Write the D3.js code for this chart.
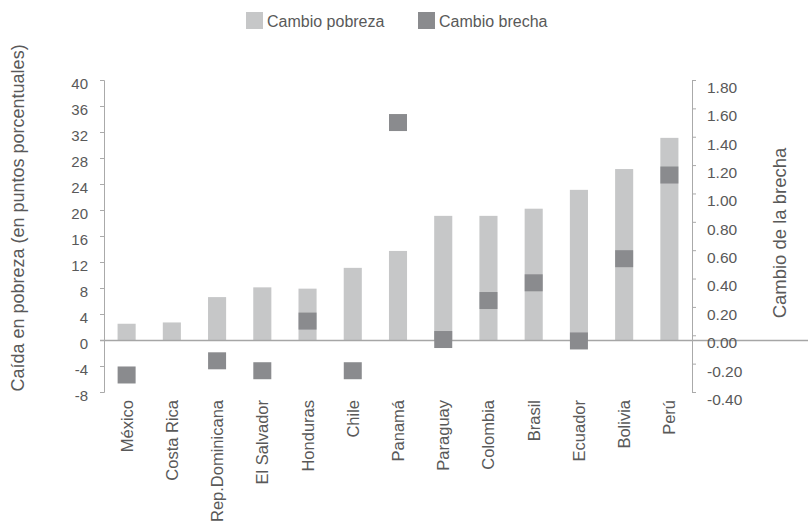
<!DOCTYPE html>
<html><head><meta charset="utf-8">
<script src="https://cdn.jsdelivr.net/npm/d3@7"></script>
<style>
body{margin:0;background:#fff;}
text{font-family:"Liberation Sans",Arial,sans-serif;fill:#595959;}
</style></head>
<body>
<svg id="chart" width="810" height="528"></svg>
<script>
const countries = ["México","Costa Rica","Rep.Dominicana","El Salvador","Honduras","Chile","Panamá","Paraguay","Colombia","Brasil","Ecuador","Bolivia","Perú"];
const cambioPobreza = [2.5, 2.7, 6.6, 8.1, 7.9, 11.1, 13.7, 19.1, 19.1, 20.2, 23.1, 26.3, 31.1];
const cambioBrecha = [-0.28, null, -0.18, -0.25, 0.10, -0.25, 1.50, -0.03, 0.245, 0.37, -0.04, 0.54, 1.13];
const leftTicks = [40,36,32,28,24,20,16,12,8,4,0,-4,-8];
const rightTicks = [1.8,1.6,1.4,1.2,1.0,0.8,0.6,0.4,0.2,0.0,-0.2,-0.4];
const seriesNames = ["Cambio pobreza","Cambio brecha"];
const colors = ["#c6c7c8","#8a8b8e"];

const svg = d3.select("#chart");
const L = 104, R = 692, T = 80, B = 392;

const x = d3.scaleBand().domain(countries).range([L, R]).paddingInner(0.6).paddingOuter(0.3);
const yL = d3.scaleLinear().domain([-8, 40]).range([B, T]);
const yR = d3.scaleLinear().domain([-0.4, 1.8]).range([B, T]);
const hy = f => v => f(v).replace("\u2212", "-");

// bars
svg.append("g").selectAll("rect").data(countries).join("rect")
  .attr("x", d => x(d))
  .attr("width", x.bandwidth())
  .attr("y", (d,i) => Math.min(yL(cambioPobreza[i]), yL(0)))
  .attr("height", (d,i) => Math.abs(yL(cambioPobreza[i]) - yL(0)))
  .attr("fill", colors[0]);

// zero line
svg.append("line").attr("x1", 100).attr("x2", 808)
  .attr("y1", yL(0)+0.5).attr("y2", yL(0)+0.5)
  .attr("stroke", "#a6a6a6").attr("stroke-width", 1.3);

// markers
const mw = 18, mh = 17;
svg.append("g").selectAll("rect").data(countries.map((c,i)=>({c, v:cambioBrecha[i]})).filter(d => d.v !== null)).join("rect")
  .attr("x", d => x(d.c) + x.bandwidth()/2 - mw/2)
  .attr("y", d => yR(d.v) - mh/2)
  .attr("width", mw).attr("height", mh)
  .attr("fill", colors[1]);

// left axis
const gL = svg.append("g").attr("transform", `translate(${L},0)`)
  .call(d3.axisLeft(yL).tickValues(leftTicks).tickSize(4).tickPadding(12).tickFormat(hy(d3.format("d"))));
gL.select(".domain").attr("stroke", "#aaaaaa");
gL.selectAll(".tick line").attr("stroke", "#aaaaaa");
gL.selectAll(".tick text").attr("font-size", 15).attr("dy", "0.55em").style("fill","#595959");

// right axis
const gR = svg.append("g").attr("transform", `translate(${R},0)`)
  .call(d3.axisRight(yR).tickValues(rightTicks).tickSize(4).tickPadding(11).tickFormat(hy(d3.format(".2f"))));
gR.select(".domain").attr("stroke", "#aaaaaa");
gR.selectAll(".tick line").attr("stroke", "#aaaaaa");
gR.selectAll(".tick text").attr("font-size", 15.5).attr("dy", "0.8em").style("fill","#595959");

// category labels
svg.append("g").selectAll("text").data(countries).join("text")
  .attr("transform", d => `translate(${x(d) + x.bandwidth()/2 + 6},400) rotate(-90)`)
  .attr("text-anchor", "end")
  .attr("font-size", 16.5)
  .text(d => d);

// axis titles
svg.append("text").attr("transform", "translate(24,218) rotate(-90)")
  .attr("text-anchor", "middle").attr("font-size", 18)
  .text("Caída en pobreza (en puntos porcentuales)");
svg.append("text").attr("transform", "translate(786,233) rotate(-90)")
  .attr("text-anchor", "middle").attr("font-size", 18.5)
  .text("Cambio de la brecha");

// legend
const lg = svg.append("g");
const lx = [246, 418];
seriesNames.forEach((n,i) => {
  lg.append("rect").attr("x", lx[i]).attr("y", 12).attr("width", 17).attr("height", 17).attr("fill", colors[i]);
  lg.append("text").attr("x", lx[i] + 21).attr("y", 26.5).attr("font-size", 16).text(n);
});
</script>
</body></html>
